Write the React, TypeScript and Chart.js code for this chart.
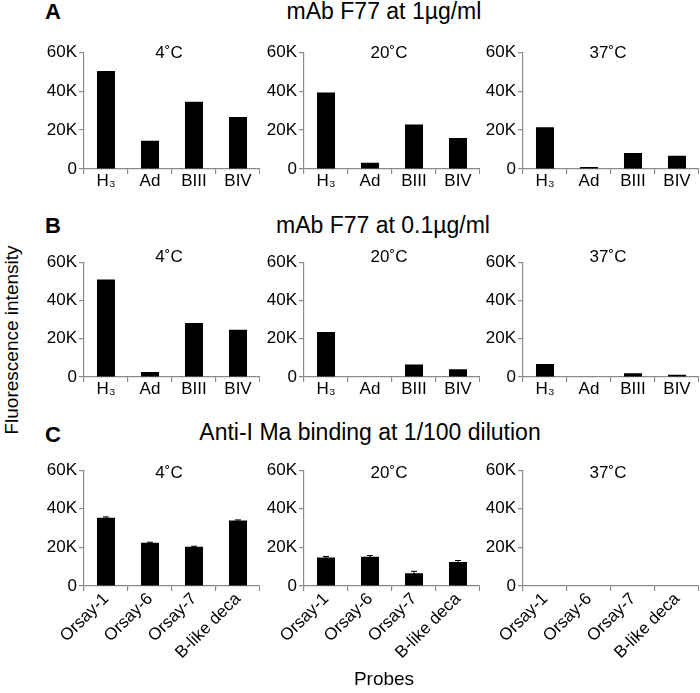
import React, { useEffect, useRef } from 'react';
import { Chart, registerables } from 'chart.js';

Chart.register(...registerables);

// ---------- data ----------
const probesAB = ['H\u2083', 'Ad', 'BIII', 'BIV'];
const probesC = ['Orsay-1', 'Orsay-6', 'Orsay-7', 'B-like deca'];
const temps = ['4\u02DAC', '20\u02DAC', '37\u02DAC'];
const yTickValues = [0, 20000, 40000, 60000];
const yTickLabels = ['0', '20K', '40K', '60K'];

const rowTitles = ['mAb F77 at 1\u00B5g/ml', 'mAb F77 at 0.1\u00B5g/ml', 'Anti-I Ma binding at 1/100 dilution'];
const rowLetters = ['A', 'B', 'C'];

// Row A: mAb F77 at 1 µg/ml
const a4 = [50300, 14500, 34500, 26700];
const a20 = [39300, 3200, 22900, 15900];
const a37 = [21400, 1000, 8200, 6800];

// Row B: mAb F77 at 0.1 µg/ml
const b4 = [51000, 2600, 28200, 24700];
const b20 = [23500, 0, 6500, 4000];
const b37 = [6800, 0, 2000, 1200];

// Row C: Anti-I Ma at 1/100
const c4 = [35400, 22400, 20300, 34000];
const c4err = [400, 300, 300, 250];
const c20 = [14800, 15200, 6600, 12400];
const c20err = [500, 600, 1000, 800];
const c37 = [0, 0, 0, 0];
const c37err = [0, 0, 0, 0];

const FONT = "'Liberation Sans', Arial, Helvetica, sans-serif";
const AXIS_COLOR = '#8a8a8a';

const errorBarPlugin = {
  id: 'errorBars',
  afterDatasetsDraw(chart: any, _args: any, opts: any) {
    const errs: number[] | undefined = opts && opts.errors;
    if (!errs) return;
    const meta = chart.getDatasetMeta(0);
    const yScale = chart.scales.y;
    const data = chart.data.datasets[0].data as number[];
    const ctx = chart.ctx;
    ctx.save();
    ctx.strokeStyle = '#000';
    ctx.lineWidth = 1;
    meta.data.forEach((bar: any, i: number) => {
      const e = errs[i];
      if (!e) return;
      const v = data[i];
      const yTop = yScale.getPixelForValue(v + e);
      const yBot = yScale.getPixelForValue(Math.max(0, v - e));
      const x = bar.x;
      ctx.beginPath();
      ctx.moveTo(x, yTop);
      ctx.lineTo(x, yBot);
      ctx.moveTo(x - 3, yTop);
      ctx.lineTo(x + 3, yTop);
      ctx.stroke();
    });
    ctx.restore();
  },
};

type PanelProps = {
  labels: string[];
  values: number[];
  errors?: number[];
  left: number;
  top: number;
  height: number;
  xAxisHeight: number;
  rotate: boolean;
};

const Y_AXIS_W = 44;
const PAD_TOP = 12;
const CANVAS_W = 220;

function Panel(p: PanelProps) {
  const ref = useRef<HTMLCanvasElement | null>(null);
  useEffect(() => {
    if (!ref.current) return;
    const chart = new Chart(ref.current, {
      type: 'bar',
      data: {
        labels: p.labels,
        datasets: [
          {
            data: p.values,
            backgroundColor: '#000',
            borderWidth: 0,
            barPercentage: 0.41,
            categoryPercentage: 1,
          },
        ],
      },
      plugins: [errorBarPlugin as any],
      options: {
        responsive: false,
        animation: false,
        layout: { padding: { top: PAD_TOP, left: 0, right: 0, bottom: 0 } },
        plugins: {
          legend: { display: false },
          tooltip: { enabled: false },
          title: { display: false },
          errorBars: { errors: p.errors },
        } as any,
        scales: {
          x: {
            offset: true,
            grid: {
              offset: true,
              display: true,
              drawOnChartArea: false,
              drawTicks: true,
              tickLength: 5,
              color: AXIS_COLOR,
              lineWidth: 1.2,
            },
            border: { display: true, color: AXIS_COLOR, width: 1.2 },
            ticks: {
              color: '#000',
              font: { family: FONT, size: 17 },
              padding: p.rotate ? -2 : -3,
              autoSkip: false,
              minRotation: p.rotate ? 45 : 0,
              maxRotation: p.rotate ? 45 : 0,
            },
            afterFit: (axis: any) => {
              axis.height = p.xAxisHeight;
            },
          },
          y: {
            min: 0,
            max: 60000,
            grid: {
              display: true,
              drawOnChartArea: false,
              drawTicks: true,
              tickLength: 5,
              color: AXIS_COLOR,
              lineWidth: 1.2,
            },
            border: { display: true, color: AXIS_COLOR, width: 1.2 },
            afterBuildTicks: (axis: any) => {
              axis.ticks = yTickValues.map((v) => ({ value: v }));
            },
            ticks: {
              color: '#000',
              font: { family: FONT, size: 17 },
              padding: 2,
              callback: (value: any) => {
                const i = yTickValues.indexOf(Number(value));
                return i >= 0 ? yTickLabels[i] : '';
              },
            },
            afterFit: (axis: any) => {
              axis.width = Y_AXIS_W;
            },
          },
        },
      } as any,
    });
    return () => chart.destroy();
  }, []);
  return (
    <canvas
      ref={ref}
      width={CANVAS_W}
      height={p.height}
      style={{ position: 'absolute', left: p.left, top: p.top, width: CANVAS_W, height: p.height }}
    />
  );
}

function Text(props: { x: number; y: number; size: number; bold?: boolean; rotate?: number; children: React.ReactNode }) {
  return (
    <div
      style={{
        position: 'absolute',
        left: props.x,
        top: props.y,
        transform: `translate(-50%, -50%)${props.rotate ? ` rotate(${props.rotate}deg)` : ''}`,
        fontFamily: FONT,
        fontSize: props.size,
        fontWeight: props.bold ? 'bold' : 'normal',
        whiteSpace: 'nowrap',
        color: '#000',
        lineHeight: 1.15,
      }}
    >
      {props.children}
    </div>
  );
}

const colLefts = [40, 260, 479];
const rowGeom = [
  { top: 40, plotH: 117, xh: 30, titleY: 53, letterY: 11.5, rowTitleY: 11, rowTitleX: 384 },
  { top: 250, plotH: 115, xh: 30, titleY: 257, letterY: 225.5, rowTitleY: 225, rowTitleX: 383 },
  { top: 458, plotH: 116, xh: 90, titleY: 473, letterY: 434.5, rowTitleY: 432, rowTitleX: 370 },
];

const rowValues = [
  [a4, a20, a37],
  [b4, b20, b37],
  [c4, c20, c37],
];
const rowErrors = [
  [undefined, undefined, undefined],
  [undefined, undefined, undefined],
  [c4err, c20err, c37err],
];
const rowLabels = [probesAB, probesAB, probesC];

export default function App() {
  return (
    <div style={{ position: 'absolute', left: 0, top: 0, width: 700, height: 693, background: '#fff', overflow: 'hidden' }}>
      {rowGeom.map((g, r) => (
        <React.Fragment key={r}>
          <Text x={53} y={g.letterY} size={22} bold>
            {rowLetters[r]}
          </Text>
          <Text x={g.rowTitleX} y={g.rowTitleY} size={23}>
            {rowTitles[r]}
          </Text>
          {colLefts.map((left, c) => (
            <React.Fragment key={c}>
              <Panel
                labels={rowLabels[r]}
                values={rowValues[r][c]}
                errors={rowErrors[r][c]}
                left={left}
                top={g.top}
                height={PAD_TOP + g.plotH + g.xh}
                xAxisHeight={g.xh}
                rotate={r === 2}
              />
              <Text x={left + Y_AXIS_W + 88 - 3} y={g.titleY} size={17}>
                {temps[c]}
              </Text>
            </React.Fragment>
          ))}
        </React.Fragment>
      ))}
      <Text x={12} y={340} size={19} rotate={-90}>
        Fluorescence intensity
      </Text>
      <Text x={384} y={679} size={19}>
        Probes
      </Text>
    </div>
  );
}
